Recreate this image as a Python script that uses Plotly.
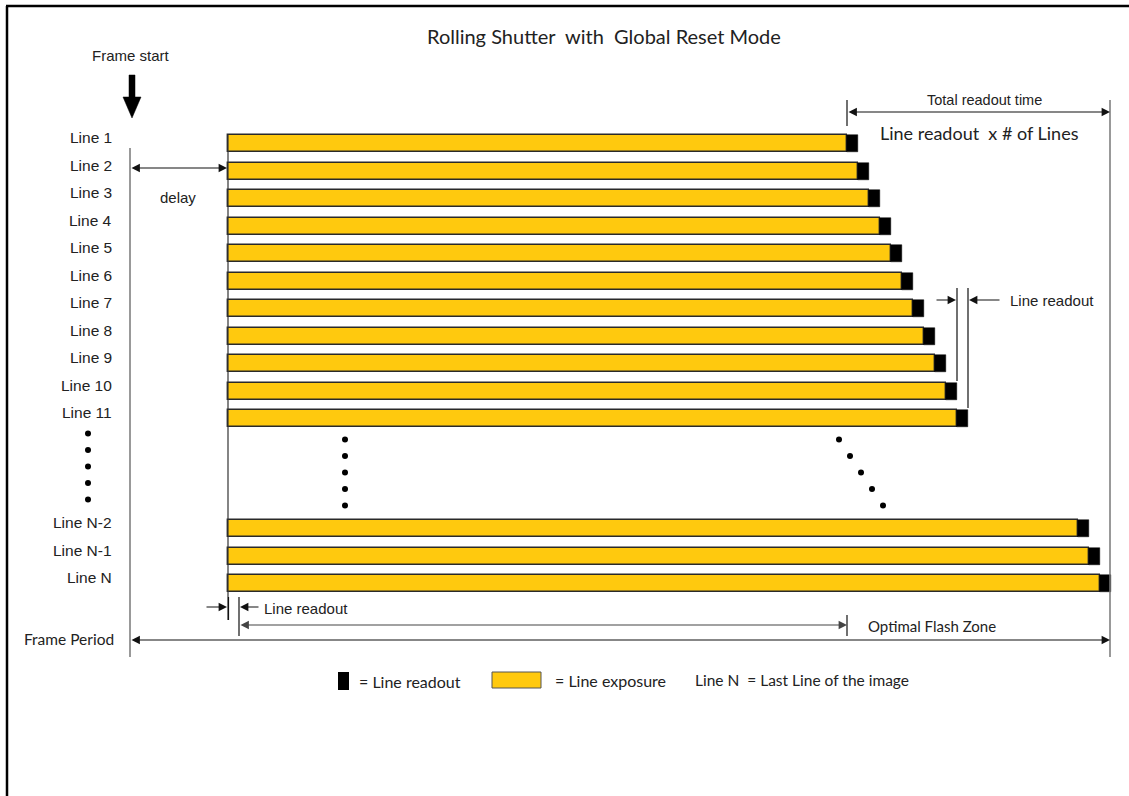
import plotly.graph_objects as go

# ---------------- data ----------------
line_labels = ["Line 1", "Line 2", "Line 3", "Line 4", "Line 5", "Line 6",
               "Line 7", "Line 8", "Line 9", "Line 10", "Line 11",
               "Line N-2", "Line N-1", "Line N"]
row_index = [0, 1, 2, 3, 4, 5, 6, 7, 8, 9, 10, 14, 15, 16]
delay = 98                # time from frame start to global reset
readout = 11              # one line readout
exposure = [619, 630, 641, 652, 663, 674, 685, 696, 707, 718, 729, 850, 861, 872]
frame_period = 980

legend_texts = ["= Line readout", "= Line exposure", "Line N  = Last Line of the image"]

# ---------------- layout helpers ----------------
W, H = 1129, 796
T0 = 130                  # pixel of frame start
ROW0, STEP = 143.5, 27.5
BAR_H = 17
ORANGE = "#FFC90E"
SANS = "Liberation Sans, Arial, sans-serif"
CAL = "Lato, Calibri, sans-serif"
TXT = "#222222"


def px(p):
    return p - T0


def row_y(r):
    return ROW0 + STEP * r


ys = [row_y(r) for r in row_index]
ends = [delay + e for e in exposure]

fig = go.Figure()
fig.add_trace(go.Bar(orientation="h", y=ys, x=exposure, base=[delay] * len(ys),
                     width=BAR_H, marker=dict(color=ORANGE, line=dict(color="#2a2a2a", width=1.4)),
                     hoverinfo="skip", showlegend=False))
fig.add_trace(go.Bar(orientation="h", y=ys, x=[readout] * len(ys), base=ends,
                     width=BAR_H, marker=dict(color="#000000", line=dict(color="#000000", width=0.5)),
                     hoverinfo="skip", showlegend=False))

# ellipsis dots
dot_rows = [10.8 + 0.6 * k for k in range(5)]
fig.add_trace(go.Scatter(x=[px(88)] * 5, y=[row_y(r) - 7 for r in dot_rows], mode="markers",
                         marker=dict(color="black", size=6), hoverinfo="skip", showlegend=False))
fig.add_trace(go.Scatter(x=[px(345)] * 5, y=[row_y(r) - 1 for r in dot_rows], mode="markers",
                         marker=dict(color="black", size=6), hoverinfo="skip", showlegend=False))
fig.add_trace(go.Scatter(x=[delay + exposure[0] - 8 + readout * k for k in range(5)],
                         y=[row_y(r) - 1 for r in dot_rows], mode="markers",
                         marker=dict(color="black", size=6), hoverinfo="skip", showlegend=False))

shapes = []
ann = []


def vline(x, y0, y1, color="#111111", w=1.2):
    shapes.append(dict(type="line", xref="x", yref="y", x0=x, x1=x, y0=y0, y1=y1,
                       line=dict(color=color, width=w)))


def arrow(x_head, y, x_tail, double=False, color="#111111"):
    d = dict(x=x_head, y=y, ax=x_tail, ay=y, xref="x", yref="y", axref="x", ayref="y",
             text="", showarrow=True, arrowhead=2, arrowsize=1.4, arrowwidth=1.2,
             arrowcolor=color, standoff=0, startstandoff=0)
    if double:
        d.update(arrowside="end+start", startarrowhead=2, startarrowsize=1.4)
    ann.append(d)


def text(x, y, s, size=15, font=SANS, anchor="left"):
    ann.append(dict(x=x, y=y, xref="x", yref="y", text=s, showarrow=False,
                    xanchor=anchor, yanchor="middle",
                    font=dict(family=font, size=size, color=TXT)))


# frame border
shapes.append(dict(type="line", xref="x", yref="y", x0=px(6), x1=px(W), y0=6, y1=6,
                   line=dict(color="black", width=2.5)))
shapes.append(dict(type="line", xref="x", yref="y", x0=px(7), x1=px(7), y0=6, y1=H,
                   line=dict(color="black", width=2.5)))

# title
ann.append(dict(x=px(604), y=36, xref="x", yref="y", text="Rolling Shutter  with  Global Reset Mode",
                showarrow=False, xanchor="center", yanchor="middle",
                font=dict(family=CAL, size=20, color=TXT)))

# frame start arrow
text(px(131), 55, "Frame start", size=15, anchor="center")
shapes.append(dict(type="path", xref="x", yref="y",
                   path=f"M {px(129)},75 L {px(135)},75 L {px(135)},97 L {px(141)},97 "
                        f"L {px(132)},118 L {px(123)},97 L {px(129)},97 Z",
                   fillcolor="black", line=dict(color="black", width=0.5)))

# line labels
for lab, y in zip(line_labels, ys):
    text(px(114), y - 6, lab, size=15.5, anchor="right")

# frame start vertical & frame end vertical
vline(0, 148, 657, color="#777777", w=1.5)
vline(frame_period, 100, 657, color="#777777", w=1.5)

# delay
arrow(delay - 1, 168, 0, double=True)
text(px(178), 197, "delay", size=15, anchor="center")

# left edge of exposure (global reset)
vline(delay, 135, 620, color="#333333", w=1.2)

# total readout time
tr_start = delay + exposure[0]
vline(tr_start, 100, 126)
arrow(frame_period, 112, tr_start, double=True)
text(px(984), 100, "Total readout time", size=14.5, anchor="center")
ann.append(dict(x=px(979), y=133, xref="x", yref="y", text="Line readout  x # of Lines",
                showarrow=False, xanchor="center", yanchor="middle",
                font=dict(family=CAL, size=18, color=TXT)))

# line readout (right)
x10 = delay + exposure[9] + readout
x11 = delay + exposure[10] + readout
vline(x10, 288, 381)
vline(x11, 288, 408)
arrow(x10 - 1, 300, x10 - 22)
arrow(x11 + 1, 300, x11 + 33)
text(px(1008), 300, "Line readout", size=15)

# line readout (bottom)
vline(delay + 0.5, 597, 620)
vline(delay + readout, 597, 636)
arrow(delay - 1, 607, delay - 23)
arrow(delay + readout + 1, 607, delay + readout + 21)
text(px(262), 608, "Line readout", size=15)

# optimal flash zone
vline(tr_start, 615, 636)
arrow(tr_start, 625, delay + readout, double=True, color="#444444")
text(px(866), 626, "Optimal Flash Zone", size=15, font=CAL)

# frame period
arrow(frame_period, 640, 0, double=True)
text(px(116), 639, "Frame Period", size=15.5, font=CAL, anchor="right")

# legend
shapes.append(dict(type="rect", xref="x", yref="y", x0=px(338), x1=px(349), y0=672, y1=690,
                   fillcolor="black", line=dict(width=0)))
text(px(357), 681, legend_texts[0], size=16, font=CAL)
shapes.append(dict(type="rect", xref="x", yref="y", x0=px(492), x1=px(541), y0=672, y1=688,
                   fillcolor=ORANGE, line=dict(color="#555555", width=1)))
text(px(553), 680, legend_texts[1], size=16, font=CAL)
text(px(693), 680, legend_texts[2], size=15.5, font=CAL)

fig.update_layout(
    width=W, height=H, margin=dict(l=0, r=0, t=0, b=0),
    paper_bgcolor="white", plot_bgcolor="white",
    barmode="overlay", bargap=0,
    xaxis=dict(range=[px(0), px(W)], visible=False, fixedrange=True),
    yaxis=dict(range=[H, 0], visible=False, fixedrange=True),
    shapes=shapes, annotations=ann, showlegend=False,
)

fig.write_html("out.html", config={"displayModeBar": False},
               post_script="document.body.style.margin='0px';document.body.style.overflow='hidden';")
